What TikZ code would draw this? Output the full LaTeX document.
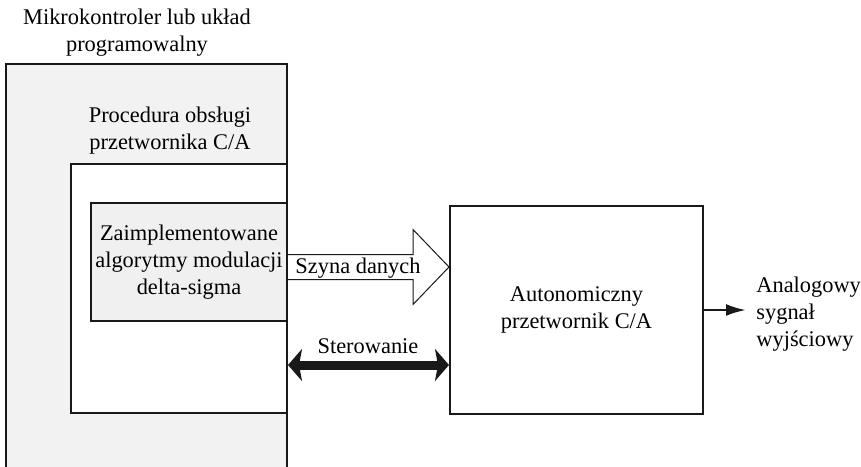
\documentclass[tikz,border=0pt]{standalone}
\usepackage{fontspec}
\setmainfont{Liberation Serif}
\usetikzlibrary{arrows.meta, positioning, calc}

\begin{document}
\begin{tikzpicture}[
    x=0.5pt, y=-0.5pt,
    font=\fontsize{11.2}{13.5}\selectfont,
    frame/.style={rectangle, draw=black!90, line width=1pt, inner sep=1pt, align=center},
    caption/.style={align=center, inner sep=0pt},
    busarrow/.style={draw=black!90, fill=white, line width=0.5pt},
    ctrl/.style={black!90, line width=4.5pt,
        {Stealth[length=7pt, width=16pt, inset=1.5pt]}-{Stealth[length=7pt, width=16pt, inset=1.5pt]}},
    outarr/.style={black!90, line width=1.3pt, -{Latex[length=10pt, width=6pt]}}
]

% -------- Layout --------
\def\ybus{267}
\def\xhead{413}
\def\yctrl{365}

\useasboundingbox (0,0) rectangle (861,466);
\clip (0,0) rectangle (861,466);

% -------- Microcontroller --------
\node[frame, fill=black!5, minimum width=140.5pt, minimum height=220pt] (mcu) at (146.5,284) {};
\node[caption] (mcutxt) at (137,33) {Mikrokontroler lub układ\\programowalny};

% -------- Driver routine --------
\node[frame, fill=white, minimum width=108pt, minimum height=124.5pt] (proc) at (179,288.5) {};
\node[caption] (proctxt) at (170,131) {Procedura obsługi\\przetwornika C/A};

% -------- Delta-sigma algorithms --------
\node[frame, fill=black!6, minimum width=98pt, minimum height=59pt] (algo) at (189,262)
    {Zaimplementowane\\algorytmy modulacji\\delta-sigma};

% -------- Converter --------
\node[frame, minimum width=126.5pt, minimum height=104pt] (dac) at (576.5,310)
    {Autonomiczny\\przetwornik C/A};

% -------- Data bus --------
\draw[busarrow] (mcu.east |- 0,\ybus-12.5) -- (\xhead,\ybus-12.5) -- (\xhead,\ybus-37.5)
    -- (dac.west |- 0,\ybus) -- (\xhead,\ybus+37.5) -- (\xhead,\ybus+12.5)
    -- (mcu.east |- 0,\ybus+12.5);
\node[caption] (bus) at (358,268) {Szyna danych};

% -------- Control --------
\coordinate (ctlrow) at (368,\yctrl);
\draw[ctrl] (mcu.east |- ctlrow) -- (dac.west |- ctlrow);
\node[caption] (ctl) at (368,346) {Sterowanie};

% -------- Output --------
\node[caption, anchor=west, align=left] (out) at (756,314) {Analogowy\\sygnał\\wyjściowy};
\draw[outarr, shorten >=5pt] (dac.east) -- (dac.east -| out.west);

\end{tikzpicture}
\end{document}
